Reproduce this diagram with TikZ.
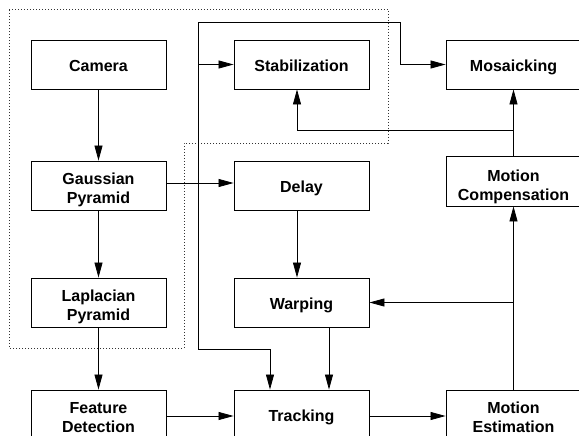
\documentclass[tikz,border=0pt]{standalone}
\usepackage{fontspec}
\setmainfont{Liberation Sans}
\usetikzlibrary{arrows.meta}
\begin{document}
\begin{tikzpicture}[x=1pt,y=-1pt,
  box/.style={draw,line width=0.9pt,minimum width=135pt,minimum height=49pt,inner sep=0pt,align=center,
    font=\fontsize{16pt}{19pt}\selectfont\bfseries,text height=14pt,text depth=0pt},
  box2/.style={box,text height=35pt},
  arr/.style={draw,line width=0.8pt,-{Triangle[length=15pt,width=8pt]}},
  grp/.style={draw,line width=0.6pt,dash pattern=on 0.8pt off 2.2pt,black!80}]
\useasboundingbox (0,0) rectangle (579,436);
\draw[grp] (9,9) -- (388,9) -- (388,143) -- (184,143) -- (184,348) -- (9,348) -- cycle;
\node[box] (camera) at (98.5,64.5) {Camera};
\node[box2] (gauss) at (98.5,185.5) {Gaussian\\Pyramid};
\node[box2] (lapl) at (98.5,302.5) {Laplacian\\Pyramid};
\node[box2] (feat) at (98.5,414.5) {Feature\\Detection};
\node[box] (stab) at (301.5,64.5) {Stabilization};
\node[box] (delay) at (301.5,185.5) {Delay};
\node[box] (warp) at (301.5,302.5) {Warping};
\node[box] (track) at (301.5,414.5) {Tracking};
\node[box] (mosaic) at (513.5,64.5) {Mosaicking};
\node[box2,minimum height=50pt,text height=38pt] (mcomp) at (513.5,181) {Motion\\Compensation};
\node[box2] (mest) at (513.5,414.5) {Motion\\Estimation};
% connectors
\draw[arr] (camera) -- (gauss);
\draw[arr] (gauss) -- (lapl);
\draw[arr] (lapl) -- (feat);
\draw[arr] ([yshift=2.5pt]gauss.east) -- ([yshift=2.5pt]delay.west);
\draw[arr] ([yshift=-1.5pt]feat.east) -- ([yshift=-1.5pt]track.west);
\draw[arr] ([yshift=-1.5pt]track.east) -- ([yshift=-1.5pt]mest.west);
\draw[arr] ([xshift=-4.5pt]delay.south) -- ([xshift=-4.5pt]warp.north);
\draw[arr] ([xshift=27.5pt]warp.south) -- ([xshift=27.5pt]track.north);
\draw[arr] (mest) -- (mcomp);
\coordinate (j1) at (mest.north |- warp.east);
\draw[arr] (j1) -- (warp.east);
\draw[arr] (mcomp) -- (mosaic);
\coordinate (j2) at (513.5,130);
\draw[arr] (j2) -| ([xshift=-4.5pt]stab.south);
% bus
\coordinate (b1) at (198,349);
\coordinate (b2) at (400,22);
\draw[arr] (b1) -| ([xshift=-31.5pt]track.north);
\draw[arr] (b1) |- (b2) |- (mosaic.west);
\draw[arr] (b1 |- stab.west) -- (stab.west);
\end{tikzpicture}
\end{document}
